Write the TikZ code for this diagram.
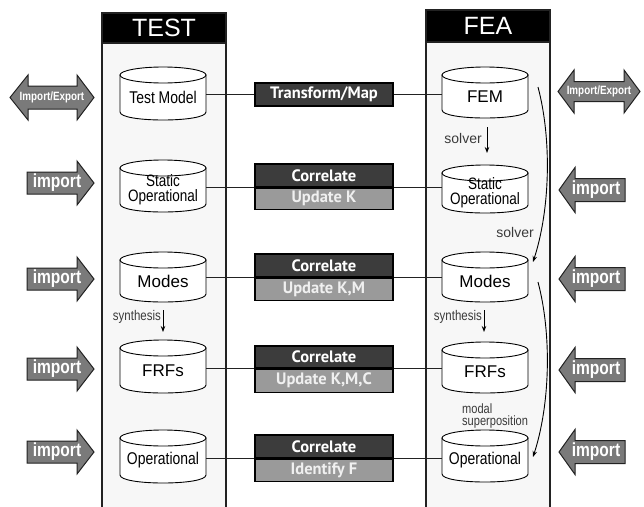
\documentclass[tikz,border=0pt]{standalone}
\usepackage{fontspec}
\setmainfont{Liberation Sans}
\newfontfamily\narrowsf[FakeStretch=0.82]{Liberation Sans}
\newfontfamily\boxsf{PT Sans}
\usetikzlibrary{arrows.meta}
\definecolor{colfill}{HTML}{F7F7F7}
\definecolor{darkbox}{HTML}{3C3C3C}
\definecolor{graybox}{HTML}{9A9A9A}
\definecolor{arrowgray}{HTML}{7A7A7A}
\definecolor{labelgray}{HTML}{3A3A3A}
\definecolor{edge}{HTML}{222222}

\newcommand{\drum}[6]{%
  \draw[drumline, fill=white] ({#2-43},{#3+8}) -- ({#2-43},{#4-8}) .. controls ({#2-43},{#4+2.67}) and ({#2+43},{#4+2.67}) .. ({#2+43},{#4-8}) -- ({#2+43},{#3+8}) -- cycle;
  \draw[drumline, fill=white] (#2,{#3+8}) ellipse [x radius=43, y radius=8];
  \node[drumtext, font=#5, minimum height={#4-#3-8}] (#1) at (#2,{(#3+#4)/2+4}) {#6};
}
\newcommand{\impR}[2]{%
  \draw[bigarrow] (27,{#2-11}) -- (77,{#2-11}) -- (77,{#2-22}) -- (94,#2) -- (77,{#2+22}) -- (77,{#2+11}) -- (27,{#2+11}) -- cycle;
  \node[imptext] (#1) at (57,#2) {import};
}
\newcommand{\impL}[2]{%
  \draw[bigarrow] (625,{#2-11.5}) -- (575,{#2-11.5}) -- (575,{#2-22.5}) -- (559,#2) -- (575,{#2+22.5}) -- (575,{#2+11.5}) -- (625,{#2+11.5}) -- cycle;
  \node[imptext] (#1) at (596,#2) {import};
}

\begin{document}
\begin{tikzpicture}[x=1pt,y=-1pt,
  column/.style={draw=edge, fill=colfill, line width=1.2pt},
  hdr/.style={draw=edge, fill=black, text=white, line width=1.2pt, inner sep=0pt,
    minimum width=124pt, font=\fontsize{25}{25}\selectfont},
  drumline/.style={draw=black, line width=0.9pt},
  drumtext/.style={minimum width=86pt, inner sep=0pt, align=center},
  darkcell/.style={draw=black, fill=darkbox, text=white, line width=1.1pt, inner sep=0pt,
    minimum width=138pt, font=\boxsf\bfseries\fontsize{16.5}{16.5}\selectfont},
  graycell/.style={darkcell, fill=graybox, text=white!94!black},
  link/.style={draw=edge, line width=0.9pt},
  bigarrow/.style={draw=edge, fill=arrowgray, line width=1pt, line join=miter},
  imptext/.style={text=white, inner sep=0pt, font=\narrowsf\bfseries\fontsize{19}{19}\selectfont},
  ietext/.style={text=white, inner sep=0pt, font=\narrowsf\bfseries\fontsize{12}{12}\selectfont},
  flow/.style={draw=black, line width=0.9pt, -{Stealth[length=6pt,width=4.5pt]}},
  lbl/.style={text=labelgray, inner sep=0pt, font=\fontsize{14}{14}\selectfont},
  nlbl/.style={text=labelgray, inner sep=0pt, font=\narrowsf\fontsize{14}{14}\selectfont},
  mlbl/.style={text=labelgray, inner sep=0pt, font=\narrowsf\fontsize{13.5}{12.5}\selectfont}
]
\useasboundingbox (0,0) rectangle (644,506);
\clip (0,0) rectangle (644,506);

% columns
\draw[column] (102,43) rectangle (226,530);
\draw[column] (426,42) rectangle (550,530);
\node[hdr, minimum height=30pt] (testhdr) at (164,28) {TEST};
\node[hdr, minimum height=32pt] (feahdr) at (488,26) {FEA};

% cylinders, TEST side
\drum{tmodel}{163}{67}{120}{\narrowsf\fontsize{17}{14}\selectfont}{Test Model}
\drum{tstat}{163}{160}{212}{\narrowsf\fontsize{16.5}{15}\selectfont}{Static\\Operational}
\drum{tmodes}{163}{252}{302}{\fontsize{17}{14}\selectfont}{Modes}
\drum{tfrf}{163}{340}{393}{\fontsize{17}{14}\selectfont}{FRFs}
\drum{toper}{163}{430}{483}{\narrowsf\fontsize{17}{14}\selectfont}{Operational}

% cylinders, FEA side
\drum{fem}{485}{67}{118}{\fontsize{17}{14}\selectfont}{FEM}
\drum{fstat}{485}{165}{213}{\narrowsf\fontsize{16.5}{15}\selectfont}{Static\\Operational}
\drum{fmodes}{485}{252}{302}{\fontsize{17}{14}\selectfont}{Modes}
\drum{ffrf}{485}{342}{393}{\fontsize{17}{14}\selectfont}{FRFs}
\drum{foper}{485}{430}{482}{\narrowsf\fontsize{17}{14}\selectfont}{Operational}

% middle boxes
\node[darkcell, minimum height=23pt] (tm) at (324,94.5) {Transform/Map};
\node[darkcell, minimum height=23pt] (c1) at (324,175.5) {Correlate};
\node[graycell, minimum height=21pt, anchor=north] (u1) at (c1.south) {Update K};
\node[darkcell, minimum height=23pt] (c2) at (324,265.5) {Correlate};
\node[graycell, minimum height=22pt, anchor=north] (u2) at (c2.south) {Update K,M};
\node[darkcell, minimum height=22pt] (c3) at (324,357) {Correlate};
\node[graycell, minimum height=23pt, anchor=north] (u3) at (c3.south) {Update K,M,C};
\node[darkcell, minimum height=23pt] (c4) at (324,446.5) {Correlate};
\node[graycell, minimum height=22pt, anchor=north] (u4) at (c4.south) {Identify F};

% links
\draw[link] (tm.west) -- (tm.west -| tmodel.east);
\draw[link] (tm.east) -- (tm.east -| fem.west);
\foreach \c/\l/\r in {c1/tstat/fstat, c2/tmodes/fmodes, c3/tfrf/ffrf, c4/toper/foper}{
  \draw[link] (\c.south west) -- (\c.south west -| \l.east);
  \draw[link] (\c.south east) -- (\c.south east -| \r.west);
}

% import arrows
\draw[bigarrow] (10,97.5) -- (28,75) -- (28,86) -- (77,86) -- (77,75) -- (94,97.5) -- (77,120) -- (77,109) -- (28,109) -- (28,120) -- cycle;
\node[ietext] (ieL) at (52,97.5) {Import/Export};
\draw[bigarrow] (558,91.5) -- (574,70) -- (574,81.5) -- (624,81.5) -- (624,70) -- (640,91.5) -- (624,113) -- (624,101.5) -- (574,101.5) -- (574,113) -- cycle;
\node[ietext] (ieR) at (599,91.5) {Import/Export};
\impR{imL1}{183}
\impR{imL2}{279}
\impR{imL3}{369}
\impR{imL4}{452}
\impL{imR1}{190}
\impL{imR2}{279}
\impL{imR3}{370}
\impL{imR4}{452}

% flow arrows
\coordinate (sv1a) at (487,127);
\coordinate (sv1b) at (487,153);
\draw[flow] (sv1a) -- (sv1b);
\node[lbl, anchor=east] (solver1) at (482,138) {solver};
\coordinate (sy1a) at (163,310);
\coordinate (sy1b) at (163,332);
\draw[flow] (sy1a) -- (sy1b);
\node[nlbl, anchor=east] (synth1) at (161,317) {synthesis};
\coordinate (sy2a) at (484,310);
\coordinate (sy2b) at (484,332);
\draw[flow] (sy2a) -- (sy2b);
\node[nlbl, anchor=east] (synth2) at (482,317) {synthesis};

\coordinate (s1a) at (538,87);
\coordinate (s1b) at (533,262);
\draw[flow] (s1a) .. controls (552,140) and (550,210) .. (s1b);
\node[lbl, anchor=east] (solver2) at (534,232) {solver};
\coordinate (s2a) at (538,282);
\coordinate (s2b) at (533,457);
\draw[flow] (s2a) .. controls (552,335) and (550,405) .. (s2b);
\node[mlbl, anchor=west, align=left] (modal) at (462,416) {modal\\superposition};
\end{tikzpicture}
\end{document}
